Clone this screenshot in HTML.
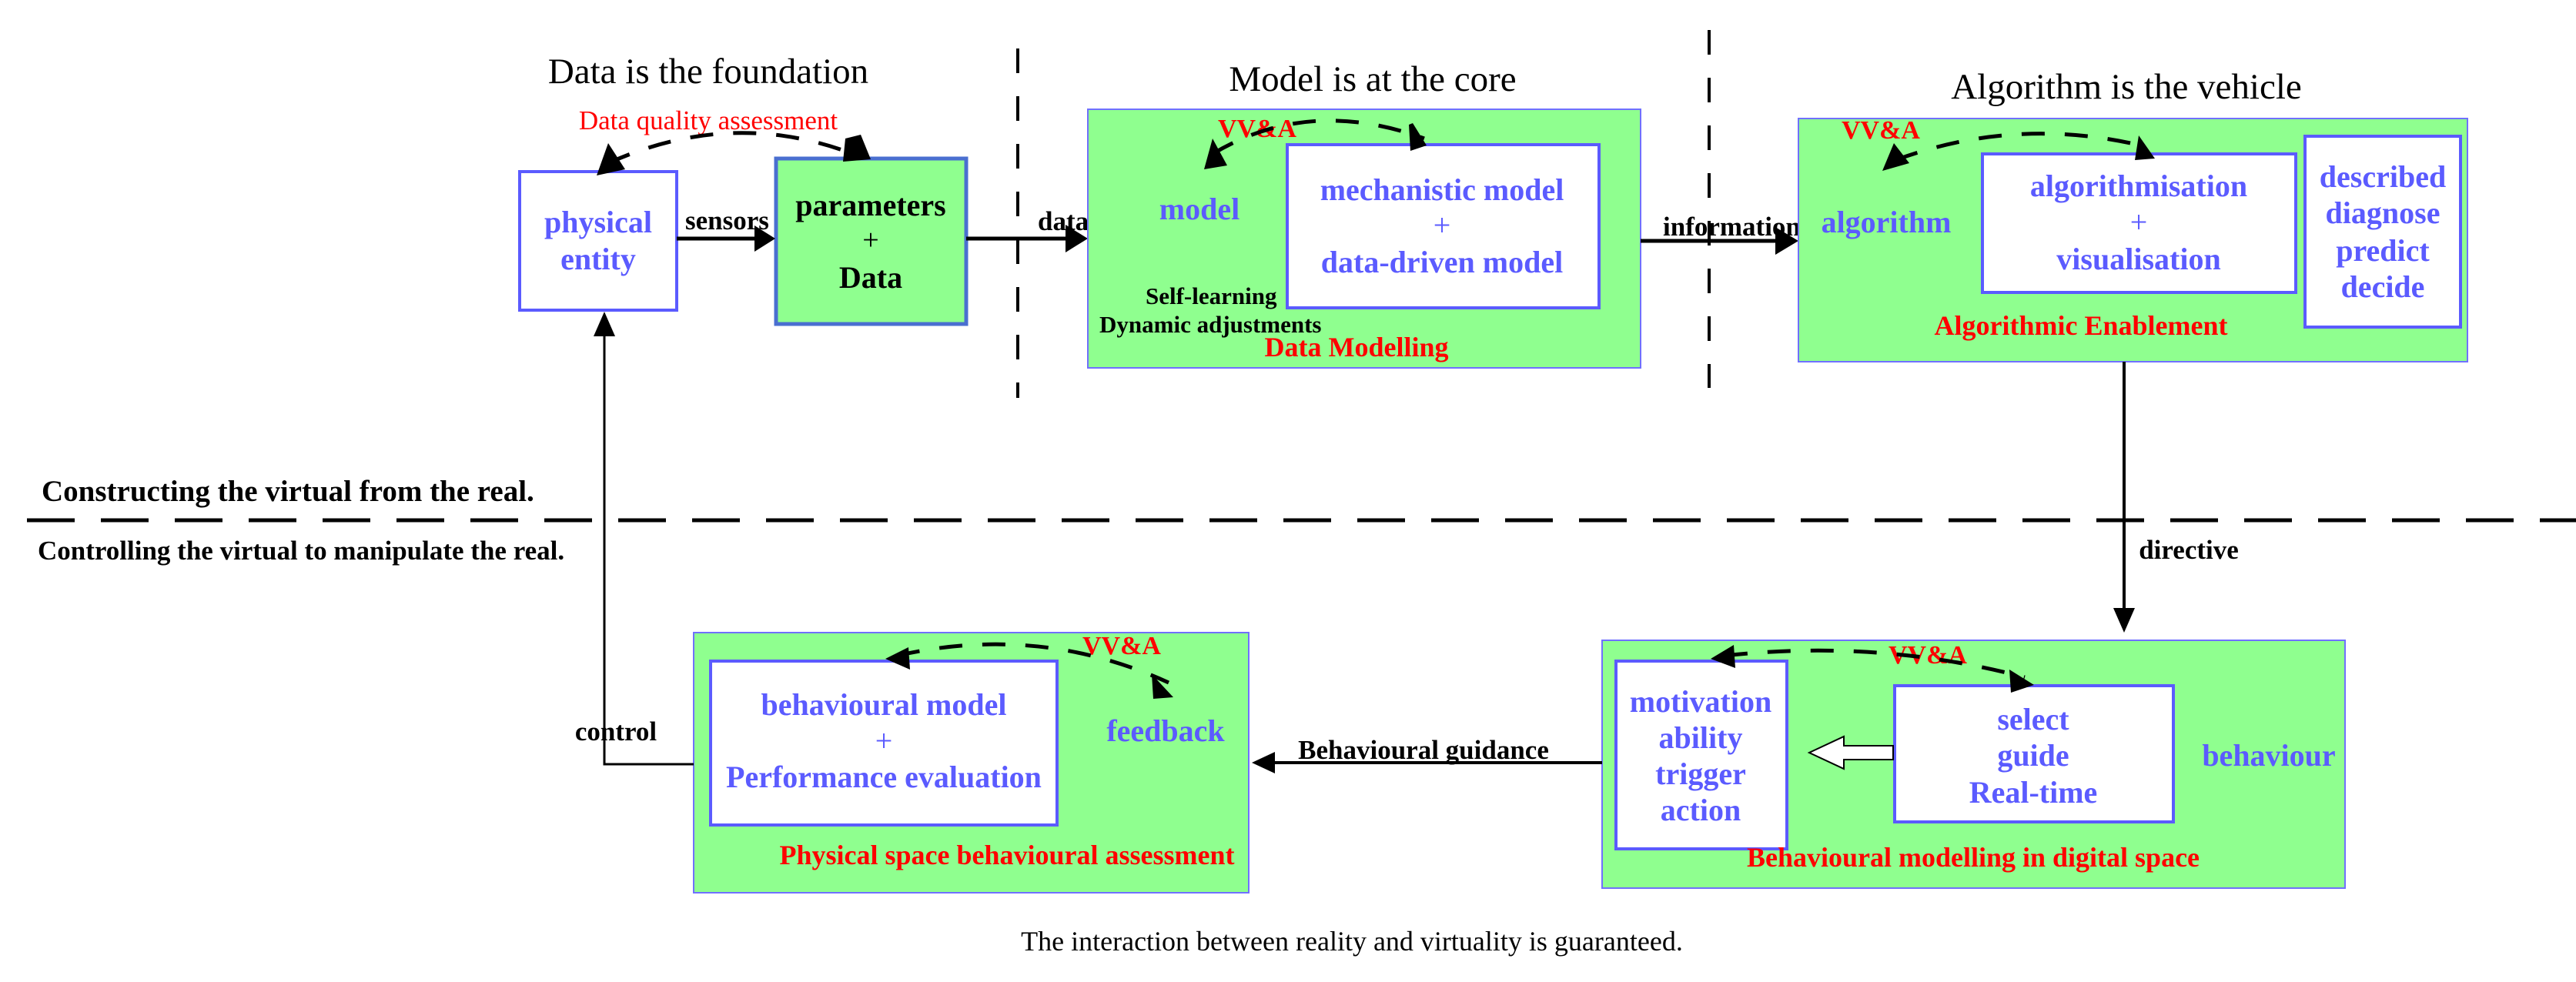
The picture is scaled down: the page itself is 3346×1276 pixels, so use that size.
<!DOCTYPE html>
<html><head><meta charset="utf-8"><style>
html,body{margin:0;padding:0;background:#fff;}
svg{display:block;}
text{font-family:"Liberation Serif",serif;}
.b{fill:#5b5bff;font-weight:bold;font-size:40px;text-anchor:middle;}
.r{fill:#ff0000;font-weight:bold;font-size:36px;text-anchor:middle;}
.k{fill:#000;font-weight:bold;font-size:35px;}
.t{fill:#000;font-size:47px;text-anchor:middle;}
.v{fill:#ff0000;font-weight:bold;font-size:34px;text-anchor:middle;}
</style></head><body>
<svg width="3346" height="1276" viewBox="0 0 3346 1276" xmlns="http://www.w3.org/2000/svg">
<!-- dashed dividers -->
<line x1="1322" y1="63" x2="1322" y2="517" stroke="#000" stroke-width="4" stroke-dasharray="32,30"/>
<line x1="2220" y1="39" x2="2220" y2="504" stroke="#000" stroke-width="4" stroke-dasharray="32,30"/>
<line x1="35" y1="676" x2="3346" y2="676" stroke="#000" stroke-width="5" stroke-dasharray="62,34"/>

<!-- titles -->
<text class="t" x="920" y="108">Data is the foundation</text>
<text class="t" x="1783" y="118">Model is at the core</text>
<text class="t" x="2762" y="128">Algorithm is the vehicle</text>
<text class="t" x="1756" y="1235" style="font-size:36px">The interaction between reality and virtuality is guaranteed.</text>
<text class="k" x="54" y="651" style="font-size:39px">Constructing the virtual from the real.</text>
<text class="k" x="49" y="727" style="font-size:35px">Controlling the virtual to manipulate the real.</text>

<!-- physical entity -->
<rect x="675" y="223" width="204" height="180" fill="#fff" stroke="#5b5bff" stroke-width="4"/>
<text class="b" x="777" y="302">physical</text>
<text class="b" x="777" y="350">entity</text>
<!-- parameters -->
<rect x="1008" y="206" width="247" height="215" fill="#8fff8f" stroke="#4a6fd0" stroke-width="5"/>
<text class="k" x="1131" y="280" style="font-size:40px;text-anchor:middle">parameters</text>
<text x="1131" y="324" style="font-size:38px;text-anchor:middle">+</text>
<text class="k" x="1131" y="374" style="font-size:40px;text-anchor:middle">Data</text>
<text class="r" x="920" y="168" style="font-weight:normal;font-size:35px">Data quality assessment</text>

<!-- sensors / data arrows -->
<line x1="879" y1="310" x2="985" y2="310" stroke="#000" stroke-width="5"/>
<path d="M980,293 L1007,310 L980,327z" fill="#000"/>
<text class="k" x="890" y="298">sensors</text>
<line x1="1255" y1="310" x2="1390" y2="310" stroke="#000" stroke-width="5"/>
<path d="M1384,292 L1413,310 L1384,328z" fill="#000"/>
<text class="k" x="1348" y="299">data</text>

<!-- model box -->
<rect x="1413" y="142" width="718" height="336" fill="#8fff8f" stroke="#7070ff" stroke-width="2"/>
<rect x="1672" y="188" width="405" height="212" fill="#fff" stroke="#5b5bff" stroke-width="4"/>
<text class="b" x="1558" y="285">model</text>
<text class="b" x="1873" y="260">mechanistic model</text>
<text class="b" x="1873" y="306" style="font-weight:normal">+</text>
<text class="b" x="1873" y="354">data-driven model</text>
<text class="k" x="1488" y="395" style="font-size:31px">Self-learning</text>
<text class="k" x="1428" y="432" style="font-size:31px">Dynamic adjustments</text>
<text class="r" x="1762" y="463">Data Modelling</text>
<text class="v" x="1633" y="178">VV&amp;A</text>

<!-- information arrow -->
<line x1="2131" y1="313" x2="2310" y2="313" stroke="#000" stroke-width="5"/>
<path d="M2306,295 L2336,313 L2306,331z" fill="#000"/>
<text class="k" x="2160" y="306">information</text>

<!-- algorithm box -->
<rect x="2336" y="154" width="869" height="316" fill="#8fff8f" stroke="#7070ff" stroke-width="2"/>
<rect x="2575" y="200" width="407" height="180" fill="#fff" stroke="#5b5bff" stroke-width="4"/>
<rect x="2994" y="177" width="202" height="248" fill="#fff" stroke="#5b5bff" stroke-width="4"/>
<text class="b" x="2450" y="302">algorithm</text>
<text class="b" x="2778" y="255">algorithmisation</text>
<text class="b" x="2778" y="302" style="font-weight:normal">+</text>
<text class="b" x="2778" y="350">visualisation</text>
<text class="b" x="3095" y="243">described</text>
<text class="b" x="3095" y="290">diagnose</text>
<text class="b" x="3095" y="339">predict</text>
<text class="b" x="3095" y="386">decide</text>
<text class="r" x="2703" y="435">Algorithmic Enablement</text>
<text class="v" x="2443" y="180">VV&amp;A</text>

<!-- directive -->
<line x1="2759" y1="470" x2="2759" y2="800" stroke="#000" stroke-width="4"/>
<path d="M2745,790 L2759,822 L2773,790z" fill="#000"/>
<text class="k" x="2843" y="726" style="text-anchor:middle">directive</text>

<!-- behaviour box -->
<rect x="2081" y="832" width="965" height="322" fill="#8fff8f" stroke="#7070ff" stroke-width="2"/>
<rect x="2099" y="859" width="222" height="244" fill="#fff" stroke="#5b5bff" stroke-width="4"/>
<rect x="2461" y="891" width="362" height="177" fill="#fff" stroke="#5b5bff" stroke-width="4"/>
<text class="b" x="2209" y="925">motivation</text>
<text class="b" x="2209" y="972">ability</text>
<text class="b" x="2209" y="1019">trigger</text>
<text class="b" x="2209" y="1066">action</text>
<text class="b" x="2641" y="948">select</text>
<text class="b" x="2641" y="995">guide</text>
<text class="b" x="2641" y="1043">Real-time</text>
<text class="b" x="2947" y="995">behaviour</text>
<text class="r" x="2563" y="1126">Behavioural modelling in digital space</text>
<text class="v" x="2504" y="862">VV&amp;A</text>
<path d="M2459,969 L2395,969 L2395,957 L2350,978 L2395,999 L2395,987 L2459,987z" fill="#fff" stroke="#000" stroke-width="2"/>

<!-- behavioural guidance -->
<line x1="2081" y1="991" x2="1650" y2="991" stroke="#000" stroke-width="4"/>
<path d="M1656,977 L1626,991 L1656,1005z" fill="#000"/>
<text class="k" x="1849" y="986" style="text-anchor:middle">Behavioural guidance</text>

<!-- physical space box -->
<rect x="901" y="822" width="721" height="338" fill="#8fff8f" stroke="#7070ff" stroke-width="2"/>
<rect x="923" y="859" width="450" height="213" fill="#fff" stroke="#5b5bff" stroke-width="4"/>
<text class="b" x="1148" y="929">behavioural model</text>
<text class="b" x="1148" y="976" style="font-weight:normal">+</text>
<text class="b" x="1148" y="1023">Performance evaluation</text>
<text class="b" x="1514" y="963">feedback</text>
<text class="r" x="1308" y="1123">Physical space behavioural assessment</text>
<text class="v" x="1457" y="850">VV&amp;A</text>

<!-- control -->
<polyline points="901,993 785,993 785,430" fill="none" stroke="#000" stroke-width="3"/>
<path d="M771,437 L785,405 L799,437z" fill="#000"/>
<text class="k" x="800" y="962" style="text-anchor:middle">control</text>

<!-- curved dashed bidirectional arrows -->
<g fill="none" stroke="#000" stroke-width="5" stroke-dasharray="30,26">
<path d="M790,212 Q950,140 1108,200"/>
<path d="M1575,200 Q1700,125 1850,180"/>
<path d="M2462,208 Q2620,150 2785,190"/>
<path d="M2240,852 Q2440,830 2630,880"/>
<path d="M1165,852 Q1350,810 1518,887"/>
</g>
<g fill="#000">
<path d="M775,228 L790,186 L812,220z"/>
<path d="M1098,180 L1118,175 L1131,207 L1095,210z"/>
<path d="M1564,220 L1575,180 L1594,215z"/>
<path d="M1835,160 L1853,189 L1832,196 L1830,162z"/>
<path d="M2445,222 L2460,186 L2480,212z"/>
<path d="M2778,176 L2799,206 L2773,208z"/>
<path d="M2222,856 L2252,838 L2254,868z"/>
<path d="M2610,870 L2642,890 L2612,900z"/>
<path d="M1150,856 L1180,841 L1182,870z"/>
<path d="M1496,876 L1524,906 L1498,908z"/>
</g>
</svg>
</body></html>
